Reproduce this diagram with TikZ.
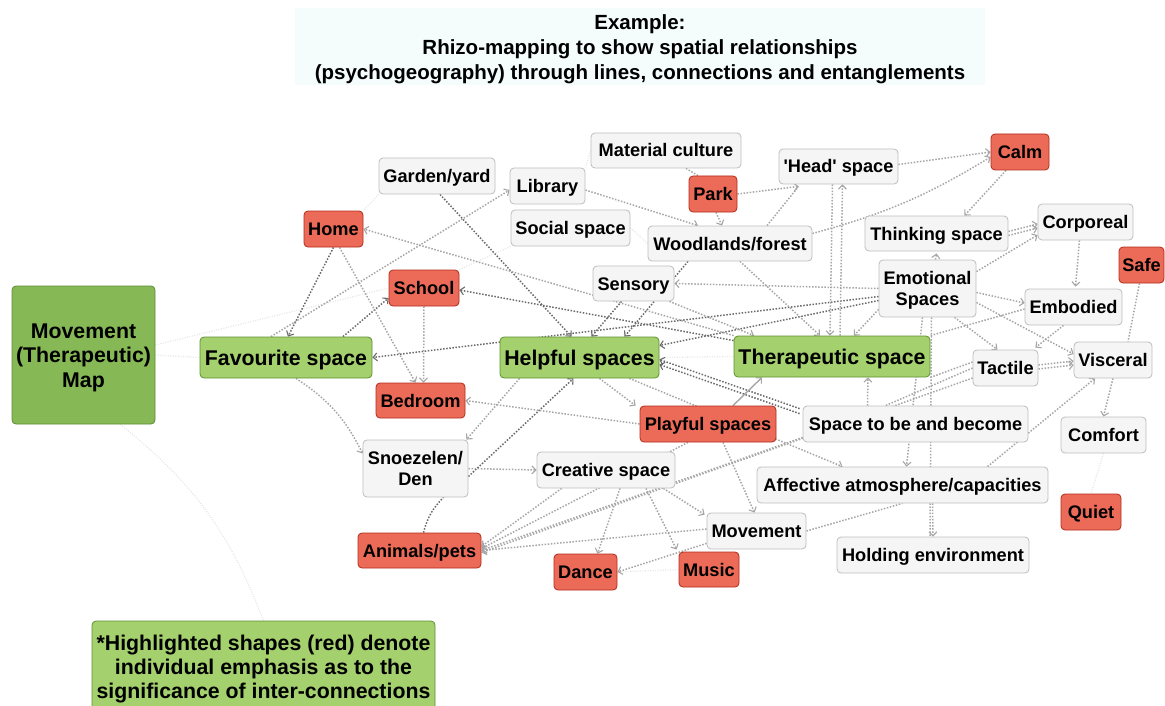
\documentclass[tikz,border=0pt]{standalone}
\usepackage{fontspec}
\setmainfont{Liberation Sans}
\usetikzlibrary{arrows.meta,calc}
\definecolor{wfill}{HTML}{F5F5F5}
\definecolor{wdraw}{HTML}{BDBDBD}
\definecolor{rfill}{HTML}{EC6B58}
\definecolor{rdraw}{HTML}{B22A1A}
\definecolor{gfill}{HTML}{A4D06E}
\definecolor{gdraw}{HTML}{5F9132}
\definecolor{dgfill}{HTML}{86B955}
\definecolor{dgdraw}{HTML}{5F8A36}
\definecolor{titlebg}{HTML}{F4FCFC}
\definecolor{lgray}{HTML}{A6A6A6}
\definecolor{dgray}{HTML}{6A6A6A}
\definecolor{fgray}{HTML}{E6E6E6}
\pgfdeclarelayer{bg}
\pgfsetlayers{bg,main}
\tikzset{
  box/.style={rounded corners=4pt, line width=0.8pt, inner sep=0pt, align=center, text depth=0pt},
  wbox/.style={box, fill=wfill, draw=wdraw, text height=13pt, font=\fontsize{18.2}{21}\selectfont\bfseries},
  rbox/.style={box, fill=rfill, draw=rdraw, text height=13pt, font=\fontsize{18.2}{21}\selectfont\bfseries},
  gbox/.style={box, fill=gfill, draw=gdraw, text height=15.2pt, font=\fontsize{21.3}{24}\selectfont\bfseries},
  dgbox/.style={box, fill=dgfill, draw=dgdraw, text height=64.2pt, font=\fontsize{21.3}{24.5}\selectfont\bfseries},
  lnk/.style={draw=lgray, line width=1.5pt, dash pattern=on 1.5pt off 1.6pt,
    -{Straight Barb[length=4pt,width=8pt,line width=1.1pt]}},
  lnkd/.style={lnk, draw=dgray},
  lnkn/.style={lnk, -},
  lnkdn/.style={lnkd, -},
  lnksolid/.style={draw=lgray, line width=1.4pt, -{Straight Barb[length=4pt,width=8pt,line width=1.1pt]}},
  lnkf/.style={draw=fgray, line width=1.3pt, dash pattern=on 1pt off 1.5pt},
}
\begin{document}
\begin{tikzpicture}[x=1pt,y=-1pt]
\path[use as bounding box] (0,0) rectangle (1165,706);
\clip (0,0) rectangle (1165,706);

% title
\fill[titlebg] (295,8) rectangle (985,85);
\node[inner sep=0pt, align=center, text height=64.7pt, text depth=0pt,
  font=\fontsize{20.5}{25}\selectfont\bfseries] (title) at (640,47)
  {Example:\\Rhizo-mapping to show spatial relationships\\(psychogeography) through lines, connections and entanglements};

% main nodes
\node[dgbox, minimum width=143, minimum height=138] (mtm) at (83.5,355) {Movement\\(Therapeutic)\\Map};
\node[gbox, minimum width=172, minimum height=41] (fav) at (286,357.5) {Favourite space};
\node[gbox, minimum width=159, minimum height=41] (help) at (579.5,357.5) {Helpful spaces};
\node[gbox, minimum width=196, minimum height=41] (ther) at (832,356.5) {Therapeutic space};
\node[gbox, text height=63.2pt, minimum width=343, minimum height=91] (note) at (263.5,666.5) {*Highlighted shapes (red) denote\\individual emphasis as to the\\significance of inter-connections};

\node[rbox, minimum width=59, minimum height=36] (home) at (333.5,229) {Home};
\node[wbox, minimum width=116, minimum height=36] (garden) at (437,176) {Garden/yard};
\node[wbox, minimum width=75, minimum height=36] (library) at (547.5,186) {Library};
\node[wbox, minimum width=119, minimum height=36] (social) at (570.5,228) {Social space};
\node[wbox, minimum width=150, minimum height=35] (material) at (666,150.5) {Material culture};
\node[rbox, minimum width=48, minimum height=36] (park) at (713,194) {Park};
\node[wbox, minimum width=119, minimum height=35] (head) at (838.5,166.5) {\textquotesingle Head\textquotesingle\ space};
\node[rbox, minimum width=58, minimum height=36] (calm) at (1020,152) {Calm};
\node[wbox, minimum width=164, minimum height=35] (woods) at (730,243.5) {Woodlands/forest};
\node[wbox, minimum width=81, minimum height=35] (sensory) at (633.5,283.5) {Sensory};
\node[rbox, minimum width=70, minimum height=36] (school) at (424,288) {School};
\node[wbox, minimum width=143, minimum height=35] (thinking) at (936.5,233.5) {Thinking space};
\node[wbox, minimum width=95, minimum height=36] (corporeal) at (1085.5,222) {Corporeal};
\node[wbox, text height=34pt, minimum width=97, minimum height=57] (emotional) at (927.5,288.5) {Emotional\\Spaces};
\node[rbox, minimum width=45, minimum height=36] (safe) at (1141.5,265) {Safe};
\node[wbox, minimum width=97, minimum height=36] (embodied) at (1073.5,307) {Embodied};
\node[wbox, minimum width=65, minimum height=36] (tactile) at (1005.5,368) {Tactile};
\node[wbox, minimum width=78, minimum height=36] (visceral) at (1113,360) {Visceral};
\node[rbox, minimum width=89, minimum height=35] (bedroom) at (420.5,400.5) {Bedroom};
\node[rbox, minimum width=136, minimum height=36] (playful) at (708,424) {Playful spaces};
\node[wbox, minimum width=225, minimum height=36] (become) at (915.5,424) {Space to be and become};
\node[wbox, minimum width=85, minimum height=36] (comfort) at (1103.5,435) {Comfort};
\node[wbox, text height=33pt, minimum width=105, minimum height=57] (snoez) at (415.5,468.5) {Snoezelen/\\Den};
\node[wbox, minimum width=138, minimum height=36] (creative) at (606,470) {Creative space};
\node[wbox, minimum width=291, minimum height=36] (affective) at (902.5,485) {Affective atmosphere/capacities};
\node[rbox, minimum width=60, minimum height=36] (quiet) at (1091,512) {Quiet};
\node[rbox, minimum width=123, minimum height=35] (animals) at (419.5,550.5) {Animals/pets};
\node[wbox, minimum width=99, minimum height=36] (movement) at (756.5,531) {Movement};
\node[wbox, minimum width=192, minimum height=36] (holding) at (933,555) {Holding environment};
\node[rbox, minimum width=63, minimum height=36] (dance) at (585.5,572) {Dance};
\node[rbox, minimum width=60, minimum height=35] (music) at (709,569.5) {Music};

\begin{pgfonlayer}{bg}
% faint links
\draw[lnkf] (mtm.east) -- (fav.west);
\draw[lnkf] ($(mtm.east)+(0,-10)$) -- (school.west);
\draw[lnkf] ($(mtm.south east)+(-35,0)$) to[bend left=15] (note.north);
\draw[lnkf] (help.east) -- (ther.west);
\draw[lnkf] (garden.south west) -- (home.north east);
\draw[lnkf] (music.west) -- (dance.east);
\draw[lnkf] (comfort.south) -- (quiet.north);
\draw[lnkf] (social.east) -- (woods.west);
\draw[lnkf] (social.south west) -- (school.north east);
\draw[lnkf] (material.west) -- (library.north east);
% dark links
\draw[lnkd] (home.south) -- ($(fav.north)+(2,0)$);
\draw[lnkd] ($(fav.north)+(57,0)$) -- ($(school.west)+(0,10)$);
\draw[lnkd] ($(garden.south)+(3,0)$) -- ($(help.north)+(-8,0)$);
\draw[lnkd] ($(emotional.west)+(0,8)$) -- (fav.east);
\draw[lnkd] ($(ther.north west)+(0,5)$) -- ($(school.east)+(0,2)$);
\draw[lnkd] ($(emotional.west)+(0,12)$) -- ($(help.east)+(0,-12)$);
\draw[lnkd] ($(sensory.south)+(-12,0)$) -- ($(help.north)+(12,0)$);
\draw[lnkd] ($(woods.south)+(-42,0)$) -- ($(help.north)+(45,0)$);
\draw[lnkd] ($(snoez.east)+(0,8)$) -- ($(help.south)+(-6,0)$);
\draw[lnkd] ($(become.north west)+(-3,3)$) -- ($(help.east)+(0,2)$);
\draw[lnkd] ($(become.north west)+(-3,8)$) -- ($(help.east)+(0,7)$);
\draw[lnkdn] ($(animals.north)+(4,0)$) to[bend left=15] ($(snoez.south)+(28,0)$);
% light links
\draw[lnk] ($(fav.north)+(-15,0)$) -- ($(library.west)+(0,4)$);
\draw[lnk] ($(home.south)+(6,0)$) -- ($(bedroom.north)+(-5,0)$);
\draw[lnk] (school.south) -- ($(bedroom.north)+(3,0)$);
\draw[lnk] (ther.north west) -- (home.east);
\draw[lnk] (emotional.west) -- (sensory.east);
\draw[lnk] ($(sensory.south east)+(-5,0)$) -- ($(ther.north)+(-78,0)$);
\draw[lnk] ($(help.south)+(20,0)$) -- ($(playful.north west)+(-4,0)$);
\draw[lnk] (playful.west) -- (bedroom.east);
\draw[lnksolid] ($(playful.north)+(25,0)$) -- ($(ther.south)+(-70,0)$);
\draw[lnk] ($(become.north)+(-48,0)$) -- ($(ther.south)+(36,0)$);
\draw[lnkn] (tactile.west) -- ($(become.north)+(-30,0)$);
\draw[lnkn] ($(tactile.west)+(0,-6)$) -- (ther.south east);
\draw[lnkn] ($(embodied.west)+(0,2)$) -- (ther.north east);
\draw[lnk] ($(fav.south)+(10,0)$) to[bend left=15] ($(snoez.west)+(0,-15)$);
\draw[lnk] ($(help.south)+(-60,0)$) -- ($(snoez.north east)+(-2,0)$);
\draw[lnk] (snoez.east) -- (creative.west);
\draw[lnk] ($(creative.south west)+(25,0)$) -- ($(animals.east)+(0,-4)$);
\draw[lnk] ($(movement.west)+(0,-2)$) -- (animals.east);
\draw[lnk] ($(playful.south)+(-20,0)$) -- ($(animals.east)+(0,-2)$);
\draw[lnk] ($(become.south west)+(0,-5)$) -- (animals.east);
\draw[lnk] ($(tactile.west)+(0,10)$) -- ($(animals.east)+(0,2)$);
\draw[lnk] ($(creative.south)+(14,0)$) -- ($(dance.north)+(12,0)$);
\draw[lnk] ($(creative.south)+(40,0)$) -- ($(music.north west)+(-2,-2)$);
\draw[lnk] ($(creative.south east)+(-12,0)$) -- ($(movement.north west)+(-2,2)$);
\draw[lnk] ($(movement.south west)+(0,-6)$) -- (dance.east);
\draw[lnk] ($(playful.south)+(15,0)$) -- ($(movement.north)+(-2,0)$);
\draw[lnk] ($(help.south east)+(-30,0)$) -- ($(affective.north)+(-60,0)$);
\draw[lnk] ($(emotional.south)+(-5,0)$) -- ($(affective.north)+(4,0)$);
\draw[lnk] ($(affective.south)+(30,0)$) -- (holding.north);
\draw[lnkn] ($(emotional.south)+(4,0)$) -- ($(holding.north)+(-3,0)$);
\draw[lnk] ($(affective.north)+(85,0)$) -- ($(visceral.south)+(-18,0)$);
\draw[lnkn] (movement.east) -- (affective.south);
\draw[lnk] (visceral.south) -- (comfort.north);
\draw[lnkn] ($(safe.south)+(-2,0)$) -- ($(visceral.north)+(15,0)$);
\draw[lnk] ($(corporeal.south)+(-6,0)$) -- ($(embodied.north)+(2,-2)$);
\draw[lnk] ($(thinking.east)+(0,-2)$) -- ($(corporeal.west)+(0,2)$);
\draw[lnk] ($(thinking.east)+(0,2)$) -- ($(corporeal.west)+(0,6)$);
\draw[lnk] ($(emotional.north east)+(0,12)$) -- ($(corporeal.west)+(0,13)$);
\draw[lnk] ($(emotional.north)+(8,0)$) -- ($(thinking.south)+(0,2)$);
\draw[lnk] ($(emotional.east)+(0,4)$) -- ($(embodied.west)+(0,-4)$);
\draw[lnk] ($(emotional.east)+(0,14)$) -- ($(visceral.west)+(0,-6)$);
\draw[lnk] ($(emotional.south)+(27,0)$) -- ($(tactile.north)+(-8,0)$);
\draw[lnk] ($(tactile.east)+(0,-3)$) -- ($(visceral.west)+(0,1)$);
\draw[lnk] ($(tactile.east)+(0,1)$) -- ($(visceral.west)+(0,5)$);
\draw[lnk] ($(embodied.south)+(-10,0)$) -- ($(tactile.north east)+(-3,-2)$);
\draw[lnk] ($(calm.south)+(-14,0)$) -- ($(thinking.north)+(28,0)$);
\draw[lnk] ($(head.east)+(0,-2)$) -- (calm.west);
\draw[lnk] ($(woods.east)+(0,-10)$) to[bend right=8] ($(calm.west)+(0,5)$);
\draw[lnk] (park.east) -- ($(head.south west)+(20,2)$);
\draw[lnkn] ($(woods.north)+(37,0)$) -- ($(head.south west)+(20,2)$);
\draw[lnk] ($(library.east)+(0,4)$) -- ($(woods.north)+(-32,0)$);
\draw[lnk] ($(park.south)+(3,0)$) -- ($(woods.north)+(-8,0)$);
\draw[lnkn] ($(material.south)+(20,0)$) -- ($(park.north)+(-15,0)$);
\draw[lnk] ($(head.south)+(-6,0)$) -- ($(ther.north)+(-2,0)$);
\draw[lnk] ($(ther.north)+(8,0)$) -- ($(head.south)+(4,0)$);
\draw[lnk] ($(woods.south)+(10,0)$) -- ($(ther.north)+(-12,0)$);
\draw[lnk] ($(emotional.south west)+(0,-8)$) -- ($(ther.north)+(22,0)$);
\end{pgfonlayer}
\end{tikzpicture}
\end{document}
